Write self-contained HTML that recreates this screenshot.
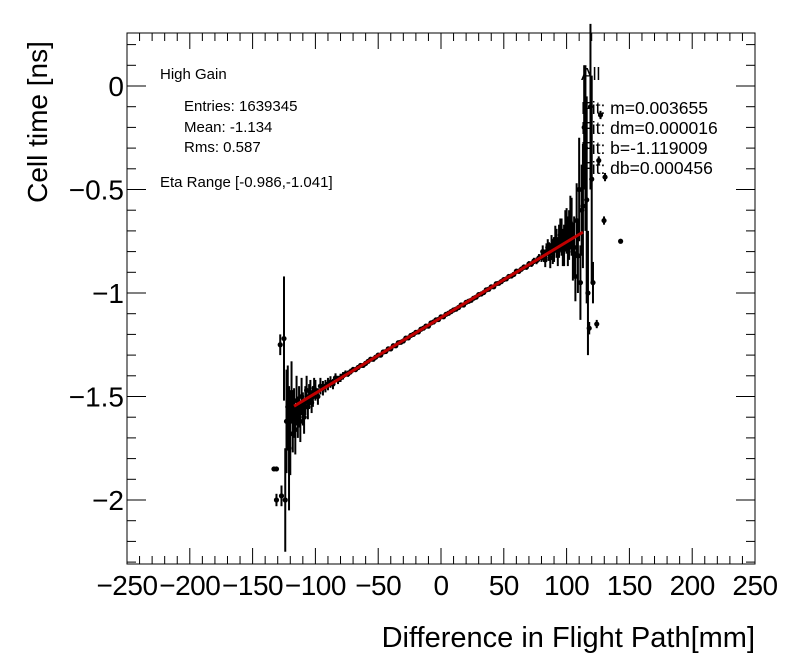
<!DOCTYPE html>
<html><head><meta charset="utf-8"><style>
html,body{margin:0;padding:0;background:#fff;}
svg{display:block;font-family:"Liberation Sans",sans-serif;}
</style></head><body>
<svg id="chart" width="796" height="672">
<rect width="796" height="672" fill="#fff"/>
<g id="axes"></g>
<g font-size="15" fill="#000">
<text x="160" y="79">High Gain</text>
<text x="184" y="111">Entries: 1639345</text>
<text x="184" y="132">Mean: -1.134</text>
<text x="184" y="152">Rms: 0.587</text>
<text x="160" y="187">Eta Range [-0.986,-1.041]</text>
</g>
<g font-size="17.5" fill="#000">
<text x="581" y="80">All</text>
<text x="581" y="114">Fit: m=0.003655</text>
<text x="581" y="134">Fit: dm=0.000016</text>
<text x="581" y="154">Fit: b=-1.119009</text>
<text x="581" y="174">Fit: db=0.000456</text>
</g>
<g id="marks"></g>
<g id="fit"></g>
<rect x="127" y="33" width="628" height="531" fill="none" stroke="#000" stroke-width="1"/>
<text x="755" y="647" font-size="29" text-anchor="end">Difference in Flight Path[mm]</text>
<text transform="translate(47,122) rotate(-90)" font-size="28" text-anchor="middle">Cell time [ns]</text>
</svg>
<script>
const xTicks=[-250,-200,-150,-100,-50,0,50,100,150,200,250];
const yTicks=[0,-0.5,-1,-1.5,-2];
const yTickLabels=["0","\u22120.5","\u22121","\u22121.5","\u22122"];
const ptX=[-133,-131,-131,-128,-127,-125,-124,-123,-122,-121,-120,-119,-118,-117,-116,-115,-114,-113,-112,-111,-110,-109,-108,-107,-106,-105,-104,-103,-102,-101,-100,-98,-96,-94,-92,-90,-88,-86,-84,-82,-80,-78,-76,-74,-72,-70,-68,-66,-64,-62,-60,-58,-56,-54,-52,-50,
-48,-46,-44,-42,-40,-38,-36,-34,-32,-30,-28,-26,-24,-22,-20,-18,-16,-14,-12,-10,-8,-6,-4,-2,0,2,4,6,8,10,12,14,16,18,20,22,24,26,28,30,32,34,36,38,40,42,44,46,48,50,52,54,56,58,60,62,64,66,68,70,72,74,76,78,
80,81,82,83,84,85,86,87,88,89,90,91,92,93,94,95,96,97,98,99,100,101,102,103,104,105,106,107,108,109,110,111,112,113,114,115,116,117,118,119,120,121,124,125.6,127,129.8,130.6,143];
const ptY=[-1.85,-1.85,-2.0,-1.25,-1.98,-1.22,-2.0,-1.62,-1.55,-1.75,-1.68,-1.48,-1.62,-1.58,-1.66,-1.52,-1.6,-1.55,-1.62,-1.5,-1.56,-1.6,-1.52,-1.47,-1.55,-1.5,-1.48,-1.53,-1.5,-1.46,-1.47,-1.5,-1.45,-1.46,-1.45,-1.44,-1.43,-1.44,-1.41,-1.42,-1.41,-1.40,-1.39,-1.39,-1.38,-1.37,-1.37,-1.36,-1.35,-1.35,-1.34,-1.33,-1.32,-1.32,-1.31,-1.30,
-1.30,-1.285,-1.283,-1.27,-1.27,-1.255,-1.255,-1.24,-1.238,-1.232,-1.218,-1.217,-1.205,-1.2,-1.19,-1.188,-1.175,-1.17,-1.16,-1.16,-1.145,-1.14,-1.13,-1.128,-1.115,-1.115,-1.103,-1.098,-1.09,-1.082,-1.078,-1.07,-1.058,-1.058,-1.045,-1.04,-1.035,-1.025,-1.02,-1.008,-1.005,-0.998,-0.985,-0.982,-0.97,-0.97,-0.955,-0.953,-0.945,-0.935,-0.932,-0.92,-0.918,-0.91,-0.895,-0.895,-0.885,-0.875,-0.875,-0.86,-0.86,-0.845,-0.845,-0.83,
-0.83,-0.8,-0.82,-0.84,-0.80,-0.78,-0.80,-0.83,-0.77,-0.8,-0.79,-0.74,-0.76,-0.8,-0.75,-0.72,-0.73,-0.78,-0.77,-0.7,-0.70,-0.75,-0.72,-0.66,-0.68,-0.8,-0.78,-0.92,-0.65,-0.82,-0.5,-0.95,-0.6,-0.58,-0.2,-0.3,-0.55,-1.0,-1.17,-0.1,-0.45,-0.95,-1.15,-0.36,-0.14,-0.65,-0.44,-0.75];
const ptErr=[0,0,0.03,0.05,0.05,0.3,0.25,0.25,0.2,0.3,0.2,0.15,0.15,0.12,0.12,0.12,0.1,0.1,0.1,0.09,0.08,0.08,0.07,0.07,0.06,0.06,0.06,0.05,0.05,0.05,0.05,0.04,0.04,0.035,0.03,0.03,0.028,0.025,0.022,0.02,0.02,0.018,0.016,0.015,0.014,0.013,0.012,0.012,0.011,0.011,0.01,0.01,0.01,0.01,0.01,0.01,
0.009,0.009,0.009,0.009,0.009,0.009,0.009,0.009,0.009,0.009,0.009,0.009,0.009,0.009,0.009,0.009,0.009,0.009,0.009,0.009,0.009,0.009,0.009,0.009,0.009,0.009,0.009,0.009,0.009,0.009,0.009,0.009,0.009,0.009,0.009,0.009,0.009,0.009,0.009,0.009,0.009,0.009,0.009,0.009,0.009,0.009,0.009,0.009,0.01,0.01,0.01,0.01,0.01,0.01,0.012,0.012,0.012,0.013,0.013,0.014,0.014,0.015,0.016,0.018,
0.02,0.03,0.03,0.035,0.04,0.04,0.045,0.05,0.05,0.06,0.06,0.065,0.07,0.07,0.08,0.08,0.09,0.09,0.1,0.1,0.11,0.12,0.12,0.13,0.14,0.14,0.15,0.12,0.18,0.18,0.25,0.18,0.22,0.3,0.3,0.4,0.5,0.3,0.03,0.4,0.5,0.1,0.02,0.02,0.02,0.02,0.02,0];
const fitM=0.003655, fitB=-1.119009, fitXmin=-117, fitXmax=113;
const NS="http://www.w3.org/2000/svg";
const L=127,R=755,T=33,B=564;
function sx(v){return 441+v*1.256;}
function sy(v){return 86-v*207;}
function mk(t,a,p){const e=document.createElementNS(NS,t);for(const k in a)e.setAttribute(k,a[k]);p.appendChild(e);return e;}
const ax=document.getElementById('axes');
for(let v=-250;v<=250;v+=10){const x=sx(v);const major=v%50===0;const len=major?16:8;
 const t1=mk('line',{x1:x,x2:x,y1:B,y2:B-len,stroke:'#000'},ax);
 
 
 const t2=mk('line',{x1:x,x2:x,y1:T,y2:T+len,stroke:'#000'},ax);
 
 }
xTicks.forEach(v=>{const t=mk('text',{x:sx(v),y:595,'font-size':28,'text-anchor':'middle','letter-spacing':'-0.5'},ax);t.textContent=String(v).replace('-','\u2212');
 
 });
for(let i=2;i>=-23;i--){const v=i/10;const y=sy(v);if(y<T||y>B)continue;const major=i%5===0;const len=major?19:9;
 const t1=mk('line',{x1:L,x2:L+len,y1:y,y2:y,stroke:'#000'},ax);
 
 
 const t2=mk('line',{x1:R,x2:R-len,y1:y,y2:y,stroke:'#000'},ax);
 
 }
yTicks.forEach((v,i)=>{const t=mk('text',{x:124,y:sy(v)+10,'font-size':28,'text-anchor':'end'},ax);t.textContent=yTickLabels[i];
 
 });
const mg=document.getElementById('marks');
ptX.forEach((xv,i)=>{const x=sx(xv),y=sy(ptY[i]),e=(ptErr[i]||0)*207;
 if(e>0){const l=mk('line',{x1:x,x2:x,y1:y-e,y2:y+e,stroke:'#000','stroke-width':2},mg);
 
 }
 const c=mk('circle',{cx:x,cy:y,r:2.6,fill:'#000'},mg);
 
 });
const fg=document.getElementById('fit');
const fl=mk('line',{x1:sx(fitXmin),y1:sy(fitM*fitXmin+fitB),x2:sx(fitXmax),y2:sy(fitM*fitXmax+fitB),stroke:'#c00000','stroke-width':3},fg);


</script>
</body></html>
